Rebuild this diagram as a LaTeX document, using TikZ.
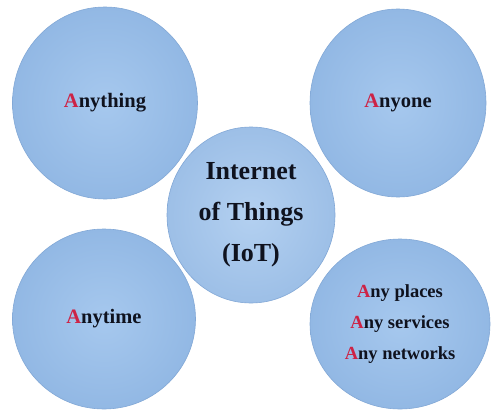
\documentclass[tikz,border=0pt]{standalone}
\usepackage{fontspec}
\setmainfont{Liberation Serif}[BoldFont={Liberation Serif Bold}]
\usetikzlibrary{shapes.geometric}
\definecolor{bubfill}{RGB}{146,184,228}
\definecolor{bubin}{RGB}{166,200,238}
\definecolor{bubrim}{RGB}{130,168,214}
\definecolor{ared}{RGB}{205,35,70}
\definecolor{txt}{RGB}{15,18,30}
\newcommand{\redA}{\textcolor{ared}{A}}
\tikzset{
  bubble/.style={ellipse, draw=bubrim, line width=0.6pt, inner color=bubin, outer color=bubfill,
    text=txt, font=\bfseries, align=center, inner sep=0pt},
  sidelabel/.style={font=\fontsize{20.5}{24}\selectfont\bfseries}
}
\begin{document}
\begin{tikzpicture}[x=1pt,y=-1pt]
\useasboundingbox (0,0) rectangle (492,412);
\fill[white] (0,0) rectangle (492,412);
\node[bubble, minimum width=185pt, minimum height=192pt, sidelabel] (thing) at (105,103) {\redA nything};
\node[bubble, minimum width=176pt, minimum height=188pt, sidelabel] (one) at (398,103) {\redA nyone};
\node[bubble, minimum width=183pt, minimum height=180pt, sidelabel] (time) at (104,319) {\redA nytime};
\node[bubble, minimum width=180pt, minimum height=170pt, font=\fontsize{18.5}{31}\selectfont\bfseries] (any) at (400,324)
  {\redA ny places\\ \redA ny services\\ \redA ny networks};
\node[bubble, minimum width=168pt, minimum height=176pt, inner color=bubin!85!white, outer color=bubfill!90!white, font=\fontsize{26}{41}\selectfont\bfseries] (iot) at (251,215)
  {Internet\\ of Things\\ (IoT)};
\end{tikzpicture}
\end{document}
